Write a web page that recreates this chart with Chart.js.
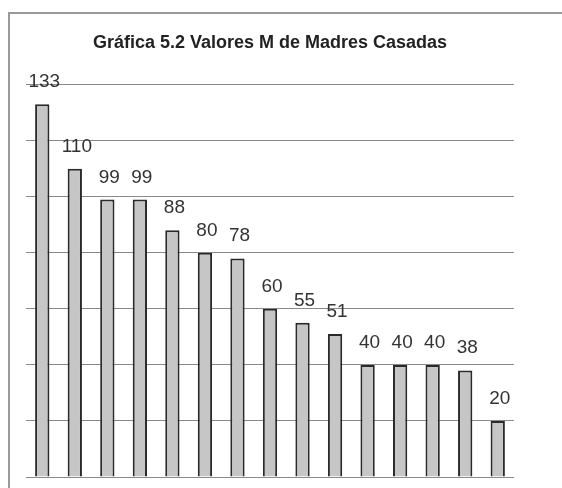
<!DOCTYPE html>
<html>
<head>
<meta charset="utf-8">
<script src="https://cdn.jsdelivr.net/npm/chart.js@4"></script>
<style>
    html, body { margin: 0; padding: 0; background: #fff; }
    #wrap { position: relative; width: 562px; height: 488px; }
    #frame {
        position: absolute; left: 8px; top: 12px; width: 560px; height: 480px;
        border-left: 2px solid #9a9a9a; border-top: 2px solid #9a9a9a;
    }
    canvas { position: absolute; left: 0; top: 0; }
</style>
</head>
<body>
<div id="wrap">
    <div id="frame"></div>
    <canvas id="chart" width="562" height="488"></canvas>
</div>
<script>
// Chart data
const categories = ['1', '2', '3', '4', '5', '6', '7', '8', '9', '10', '11', '12', '13', '14', '15'];
const values = [133, 110, 99, 99, 88, 80, 78, 60, 55, 51, 40, 40, 40, 38, 20];
const titleText = 'Gráfica 5.2 Valores M de Madres Casadas';

// Draw value labels above each bar
const valueLabels = {
    id: 'valueLabels',
    afterDatasetsDraw(chart) {
        const ctx = chart.ctx;
        const meta = chart.getDatasetMeta(0);
        ctx.save();
        ctx.font = '19px "Liberation Sans", Arial, sans-serif';
        ctx.fillStyle = '#333';
        ctx.textAlign = 'center';
        ctx.textBaseline = 'alphabetic';
        meta.data.forEach((bar, i) => {
            ctx.fillText(String(values[i]), bar.x + 2, bar.y - 17);
        });
        ctx.restore();
    }
};

new Chart(document.getElementById('chart'), {
    type: 'bar',
    data: {
        labels: categories,
        datasets: [{
            data: values,
            backgroundColor: '#c6c6c6',
            borderColor: '#2a2a2a',
            borderWidth: 2,
            barPercentage: 0.44,
            categoryPercentage: 1
        }]
    },
    options: {
        responsive: false,
        animation: false,
        layout: {
            padding: { left: 26, right: 48, top: 0, bottom: 11 }
        },
        scales: {
            x: { display: false },
            y: {
                min: 0,
                max: 140,
                ticks: { display: false, stepSize: 20 },
                grid: { color: '#8a8a8a', lineWidth: 1, drawTicks: false },
                border: { display: false }
            }
        },
        plugins: {
            legend: { display: false },
            tooltip: { enabled: false },
            title: {
                display: true,
                text: titleText,
                color: '#222',
                font: { family: '"Liberation Sans", Arial, sans-serif', size: 18, weight: 'bold', lineHeight: 1.2 },
                padding: { top: 32, bottom: 31 }
            }
        }
    },
    plugins: [valueLabels]
});
</script>
</body>
</html>
